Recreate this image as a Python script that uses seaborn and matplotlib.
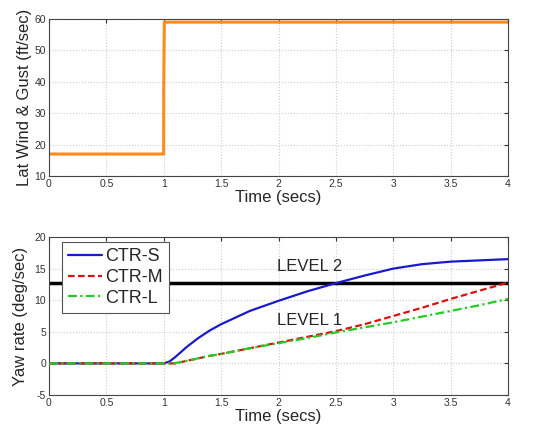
import numpy as np
import pandas as pd
import matplotlib
matplotlib.use("Agg")
import matplotlib.pyplot as plt
import seaborn as sns

# Data
wind_t = [0.0, 0.999, 1.0, 1.005, 4.0]
wind_v = [17.0, 17.0, 38.0, 59.0, 59.0]

t = [0.0, 0.5, 1.0, 1.05, 1.1, 1.2, 1.3, 1.4, 1.5, 1.75, 2.0, 2.25, 2.5, 2.75, 3.0, 3.25, 3.5, 3.75, 4.0]
ctr_s = [0.0, 0.0, 0.0, 0.3, 1.0, 2.6, 4.0, 5.2, 6.2, 8.3, 9.9, 11.4, 12.7, 13.9, 15.0, 15.7, 16.1, 16.3, 16.5]
ctr_m = [0.0, 0.0, 0.0, 0.0, 0.0, 0.4, 0.8, 1.2, 1.5, 2.4, 3.3, 4.2, 5.1, 6.2, 7.5, 8.8, 10.2, 11.5, 12.8]
ctr_l = [0.0, 0.0, 0.0, 0.0, 0.05, 0.4, 0.8, 1.2, 1.5, 2.4, 3.2, 4.0, 4.9, 5.7, 6.5, 7.4, 8.3, 9.2, 10.2]
level_line = 12.7
xtick_labels = ["0", "0.5", "1", "1.5", "2", "2.5", "3", "3.5", "4"]

sns.set_style("whitegrid")
plt.rcParams['font.family'] = ['Liberation Sans', 'DejaVu Sans']
plt.rcParams['axes.unicode_minus'] = False

fig = plt.figure(figsize=(5.49, 4.32), dpi=100)
ax1 = fig.add_axes([49/549, 1 - 176/432, (508-49)/549, (176-19)/432])
ax2 = fig.add_axes([49/549, 1 - 395/432, (508-49)/549, (395-237)/432])

grid_kw = dict(color="#cccccc", linestyle=":", linewidth=0.8)

wind_df = pd.DataFrame({"t": wind_t, "v": wind_v})
sns.lineplot(data=wind_df, x="t", y="v", ax=ax1, color="#ff8c1a", linewidth=2.2, sort=False)
ax1.set_xlim(0, 4)
ax1.set_ylim(10, 60)
ax1.set_xticks(np.arange(0, 4.01, 0.5))
ax1.set_xticklabels(xtick_labels)
ax1.set_yticks([10, 20, 30, 40, 50, 60])
ax1.set_xlabel("Time (secs)", fontsize=12, labelpad=1)
ax1.set_ylabel("Lat Wind & Gust (ft/sec)", fontsize=12, labelpad=2)

df = pd.DataFrame({"t": t, "CTR-S": ctr_s, "CTR-M": ctr_m, "CTR-L": ctr_l})
ax2.axhline(level_line, color="black", linewidth=2.5, zorder=2)
sns.lineplot(data=df, x="t", y="CTR-S", ax=ax2, color="#1a1acc", linewidth=1.6, label="CTR-S", zorder=3)
sns.lineplot(data=df, x="t", y="CTR-M", ax=ax2, color="#dd1111", linewidth=1.6, linestyle=(0, (3, 1.5)), label="CTR-M", zorder=3)
sns.lineplot(data=df, x="t", y="CTR-L", ax=ax2, color="#22cc22", linewidth=1.6, linestyle=(0, (4, 1.5, 1, 1.5)), label="CTR-L", zorder=3)
ax2.set_xlim(0, 4)
ax2.set_ylim(-5, 20)
ax2.set_xticks(np.arange(0, 4.01, 0.5))
ax2.set_xticklabels(xtick_labels)
ax2.set_yticks([-5, 0, 5, 10, 15, 20])
ax2.set_xlabel("Time (secs)", fontsize=12, labelpad=1)
ax2.set_ylabel("Yaw rate (deg/sec)", fontsize=12, labelpad=5)
ax2.text(2.27, 15.4, "LEVEL 2", ha="center", va="center", fontsize=12)
ax2.text(2.27, 6.8, "LEVEL 1", ha="center", va="center", fontsize=12)
leg = ax2.legend(loc="upper left", bbox_to_anchor=(13/459, 1 - 5/158), fontsize=13, frameon=True, fancybox=False,
                 handlelength=1.85, handletextpad=0.2, borderpad=0.35, labelspacing=0.2,
                 borderaxespad=0.0)
leg.get_frame().set_edgecolor("#555555")
leg.get_frame().set_linewidth(0.8)
leg.get_frame().set_alpha(1)

for ax in (ax1, ax2):
    ax.grid(True, **grid_kw)
    ax.tick_params(axis="both", labelsize=7.5, length=3, direction="in", pad=2, colors="#333333")
    ax.tick_params(top=True, right=True)
    for s in ax.spines.values():
        s.set_color("#444444")
        s.set_linewidth(0.8)
    ax.set_facecolor("white")

fig.savefig("out.png", dpi=100)
